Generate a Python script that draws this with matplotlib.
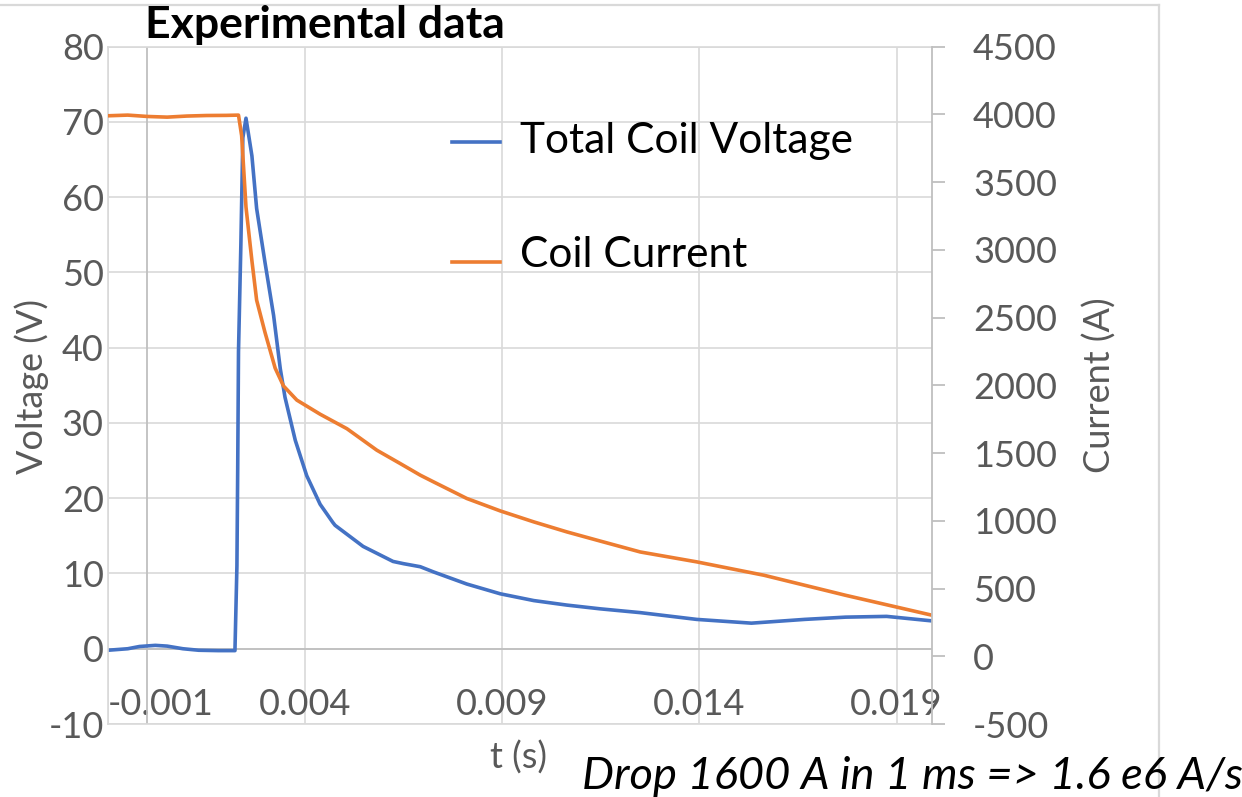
import numpy as np
import matplotlib.pyplot as plt
from matplotlib.lines import Line2D

# Data

T_VOLT = [-0.0010, -0.0005, -0.0002, 0.0002, 0.0005, 0.0009, 0.0013, 0.0018,
          0.00222, 0.00227, 0.00229, 0.00231, 0.00237, 0.00242, 0.00250,
          0.00256, 0.00265, 0.00277, 0.00298, 0.00320, 0.00337, 0.00349,
          0.00375, 0.00404, 0.00438, 0.00470, 0.00476, 0.00547, 0.00623,
          0.00650, 0.00692, 0.00726, 0.00810, 0.00895, 0.00980, 0.01064,
          0.01149, 0.01250, 0.01393, 0.01532, 0.01667, 0.01771, 0.01875,
          0.01990]
VOLTAGE = [-0.2, 0.0, 0.3, 0.45, 0.35, 0.0, -0.2, -0.25,
           -0.25, 11.0, 24.0, 39.5, 53.7, 67.9, 70.5,
           68.5, 65.5, 58.5, 51.4, 44.3, 37.2, 33.4,
           27.7, 23.0, 19.2, 16.8, 16.4, 13.6, 11.6,
           11.3, 10.9, 10.2, 8.6, 7.3, 6.4, 5.8,
           5.3, 4.8, 3.9, 3.4, 3.9, 4.2, 4.3,
           3.7]

T_CURR = [-0.0010, -0.0005, 0.0000, 0.0005, 0.0010, 0.0015, 0.0020, 0.00231,
          0.00239, 0.00250, 0.00265, 0.00277, 0.00298, 0.00324, 0.00345,
          0.00379, 0.00438, 0.00506, 0.00582, 0.00641, 0.00692, 0.00726,
          0.00810, 0.00895, 0.00980, 0.01064, 0.01149, 0.01250, 0.01393,
          0.01564, 0.01771, 0.01990]
CURRENT = [3990, 3995, 3985, 3980, 3988, 3992, 3993, 3995,
           3843, 3316, 2920, 2629, 2393, 2127, 1996,
           1891, 1787, 1680, 1521, 1423, 1337, 1287,
           1165, 1073, 992, 918, 850, 770, 697,
           598, 450, 303]

X_TICKS = [-0.001, 0.004, 0.009, 0.014, 0.019]
X_LABELS = ['-0.001', '0.004', '0.009', '0.014', '0.019']
V_TICKS = [-10, 0, 10, 20, 30, 40, 50, 60, 70, 80]
I_TICKS = [-500, 0, 500, 1000, 1500, 2000, 2500, 3000, 3500, 4000, 4500]

BLUE = '#4472C4'
ORANGE = '#ED7D31'
GRID = '#d9d9d9'
AXIS = '#bfbfbf'
TXT = '#595959'

plt.rcParams['font.family'] = ['Lato', 'DejaVu Sans']
plt.rcParams['axes.unicode_minus'] = False

W, H = 1242, 797
fig = plt.figure(figsize=(W / 100, H / 100), dpi=100)


def fx(px):
    return px / W


def fy(py):
    return 1 - py / H


ax = fig.add_axes([fx(108), fy(724), fx(932) - fx(108), fy(46.7) - fy(724)])
ax.set_xlim(-0.001, 0.0199)
ax.set_ylim(-10, 80)
ax.set_xticks(X_TICKS)
ax.set_xticklabels(X_LABELS)
ax.set_yticks(V_TICKS)
ax.grid(True, color=GRID, lw=1.2)
ax.set_axisbelow(True)
for s in ['left', 'top', 'bottom']:
    ax.spines[s].set_color(GRID)
    ax.spines[s].set_linewidth(1.2)
ax.spines['right'].set_visible(False)
ax.tick_params(axis='y', length=0, pad=3, labelsize=26, labelcolor=TXT)
ax.tick_params(axis='x', length=0, pad=-26, labelsize=26, labelcolor=TXT)
ax.xaxis.get_majorticklabels()[0].set_horizontalalignment('left')
ax.axhline(0, color=AXIS, lw=1.3, zorder=0.9)
ax.axvline(0, color=AXIS, lw=1.3, zorder=0.9)

ax.plot(T_VOLT, VOLTAGE, color=BLUE, lw=2.6, solid_joinstyle='round')

ax2 = ax.twinx()
ax2.set_ylim(-500, 4500)
ax2.set_yticks(I_TICKS)
for s in ['left', 'top', 'bottom']:
    ax2.spines[s].set_visible(False)
ax2.spines['right'].set_color(AXIS)
ax2.spines['right'].set_linewidth(1.3)
ax2.tick_params(axis='y', length=9.5, width=1.3, color=AXIS, pad=20,
                labelsize=26, labelcolor=TXT)
ax2.plot(T_CURR, CURRENT, color=ORANGE, lw=2.6, solid_joinstyle='round')

# axis titles
fig.text(fx(32), fy(387), 'Voltage (V)', rotation=90, ha='center', va='center',
         fontsize=26, color=TXT)
fig.text(fx(1100), fy(385), 'Current (A)', rotation=90, ha='center', va='center',
         fontsize=26, color=TXT)
fig.text(fx(519), fy(758), 't (s)', ha='center', va='center',
         fontsize=26, color=TXT)

# chart title
fig.text(fx(145), fy(38), 'Experimental data', ha='left', va='baseline',
         fontsize=32, fontweight='bold', color='black')

# legend
fig.add_artist(Line2D([fx(452), fx(500)], [fy(142.3), fy(142.3)],
                      color=BLUE, lw=2.6))
fig.text(fx(520), fy(152.7), 'Total Coil Voltage', ha='left', va='baseline',
         fontsize=30.5, color='black')
fig.add_artist(Line2D([fx(452), fx(500)], [fy(261.7), fy(261.7)],
                      color=ORANGE, lw=2.6))
fig.text(fx(520), fy(266.7), 'Coil Current', ha='left', va='baseline',
         fontsize=30.5, color='black')

# outer chart border (top and right visible)
fig.add_artist(Line2D([0, fx(1159)], [fy(5), fy(5)], color=GRID, lw=1.6))
fig.add_artist(Line2D([fx(1159), fx(1159)], [fy(5), 0], color=GRID, lw=1.6))

# note
fig.text(fx(582), fy(789), 'Drop 1600 A in 1 ms => 1.6 e6 A/s', ha='left',
         va='baseline', fontsize=32.6, style='italic', color='black')

fig.savefig('out.png', dpi=100)
